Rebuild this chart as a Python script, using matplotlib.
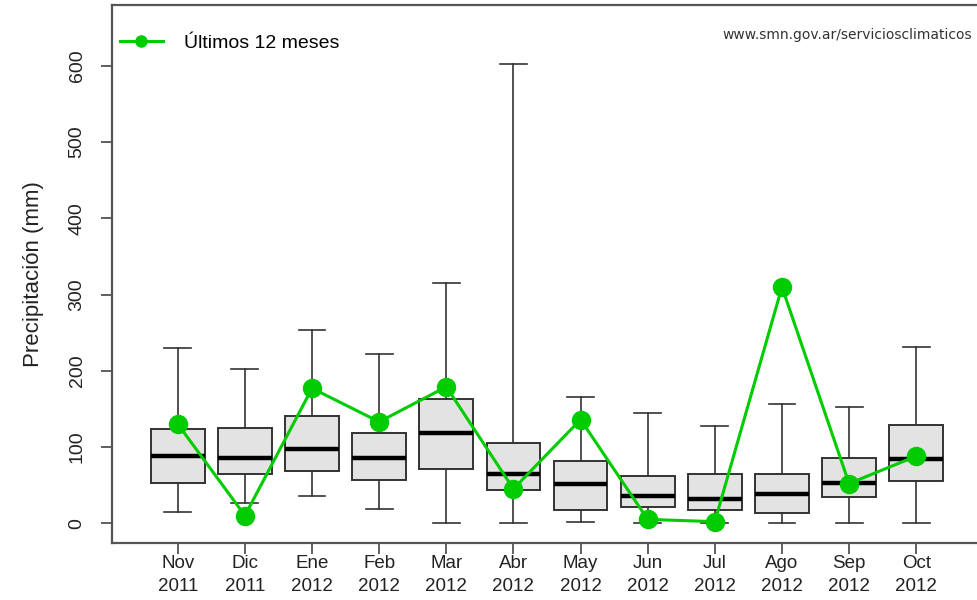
import matplotlib
matplotlib.use("Agg")
import matplotlib.pyplot as plt
from matplotlib.lines import Line2D

plt.rcParams['font.family'] = ['Liberation Sans', 'DejaVu Sans']

months = ["Nov\n2011", "Dic\n2011", "Ene\n2012", "Feb\n2012", "Mar\n2012", "Abr\n2012",
          "May\n2012", "Jun\n2012", "Jul\n2012", "Ago\n2012", "Sep\n2012", "Oct\n2012"]

# Climatological box statistics (mm)
whisker_low = [15, 27, 36, 19, 0, 0, 2, 0, 0, 0, 0, 0]
q1 = [53, 64, 69, 57, 71, 43, 17, 21, 17, 13, 34, 55]
median = [88, 86, 97, 86, 119, 64, 51, 36, 32, 38, 53, 84]
q3 = [123, 125, 141, 118, 163, 105, 81, 62, 64, 64, 86, 129]
whisker_high = [230, 202, 254, 222, 315, 602, 165, 144, 127, 157, 153, 231]

# Observed precipitation over the last 12 months (mm)
last12 = [130, 10, 177, 133, 179, 45, 136, 5, 2, 310, 52, 88]

W, H = 977, 600
fig = plt.figure(figsize=(W / 100, H / 100), dpi=100)
ax = fig.add_axes([112 / W, 57 / H, 870 / W, 538 / H])

stats = []
for i in range(len(months)):
    stats.append(dict(whislo=whisker_low[i], q1=q1[i], med=median[i],
                      q3=q3[i], whishi=whisker_high[i], fliers=[]))

positions = list(range(1, len(months) + 1))
edge = "#333333"
ax.bxp(stats, positions=positions, widths=0.8, patch_artist=True,
       showfliers=False,
       boxprops=dict(facecolor="#E3E3E3", edgecolor=edge, linewidth=1.4),
       medianprops=dict(color="black", linewidth=3.2),
       whiskerprops=dict(color=edge, linewidth=1.2),
       capprops=dict(color=edge, linewidth=1.2),
       capwidths=0.4)

green = "#00CC00"
ax.plot(positions, last12, color=green, linewidth=2.2, marker="o",
        markersize=13, markeredgecolor=green, zorder=5)

ax.set_xlim(0.02, 12.98)
ax.set_ylim(-26, 680)
ax.set_yticks([0, 100, 200, 300, 400, 500, 600])
ax.set_xticks(positions)
ax.set_xticklabels(months, fontsize=13.5, color="#222222", linespacing=1.45)
for lbl in ax.get_yticklabels():
    lbl.set_rotation(90)
    lbl.set_va("center")
    lbl.set_fontsize(14)
    lbl.set_color("#222222")
ax.tick_params(axis="both", direction="out", length=8, width=1.2, color="#444444")
ax.tick_params(axis="x", pad=1)
ax.tick_params(axis="y", pad=11)
for s in ax.spines.values():
    s.set_color("#555555")
    s.set_linewidth(1.6)

ax.set_ylabel("Precipitación (mm)", fontsize=16, color="#222222", labelpad=18)

handle = Line2D([], [], color=green, linewidth=2.2, marker="o", markersize=8)
ax.legend([handle], ["Últimos 12 meses"], loc="center left", frameon=False,
          fontsize=14, handlelength=2.2, handletextpad=1.1,
          bbox_to_anchor=(0.0, 1 - 38 / 538), borderaxespad=0.0)

fig.text(972 / W, 1 - 35 / H, "www.smn.gov.ar/serviciosclimaticos",
         ha="right", va="center", fontsize=10, color="#333333",
         family=["DejaVu Sans"])

fig.savefig("out.png", dpi=100, facecolor="white")
